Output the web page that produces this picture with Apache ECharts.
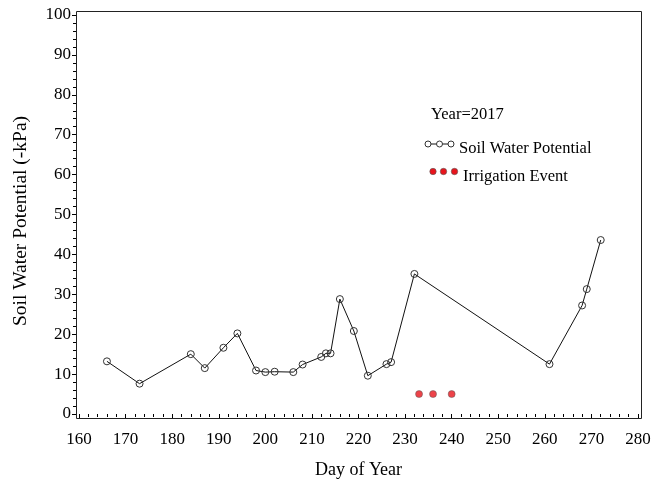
<!DOCTYPE html>
<html>
<head>
<meta charset="utf-8">
<script src="https://cdn.jsdelivr.net/npm/echarts@6/dist/echarts.min.js"></script>
<style>
  html, body { margin: 0; padding: 0; background: #fff; }
  #chart { width: 660px; height: 481px; }
</style>
</head>
<body>
<div id="chart"></div>
<script>
// Soil water potential readings (day of year, -kPa), 2017 season
const days = [166, 173, 184, 187, 191, 194, 198, 200, 202, 206, 208, 212, 213, 214, 216, 219, 222, 226, 227, 232, 261, 268, 269, 272];
const potential = [13.2, 7.6, 15.0, 11.5, 16.6, 20.2, 10.9, 10.5, 10.6, 10.5, 12.4, 14.3, 15.2, 15.2, 28.8, 20.8, 9.6, 12.5, 13.0, 35.1, 12.5, 27.2, 31.3, 43.6];

// Irrigation events, drawn at a fixed marker level
const irrigationDays = [233, 236, 240];
const irrigationLevel = [5, 5, 5];

const yearLabel = 'Year=2017';
const seriesNames = ['Soil Water Potential', 'Irrigation Event'];
const xTitle = 'Day of Year';
const yTitle = 'Soil Water Potential (-kPa)';

const FONT = 'Liberation Serif';
const RED = '#e8141c';

const chart = echarts.init(document.getElementById('chart'), null, { renderer: 'canvas' });

const lineData = days.map((d, i) => [d, potential[i]]);
const irrData = irrigationDays.map((d, i) => [d, irrigationLevel[i]]);

// frame around the plotting area
const frame = { left: 76, top: 11, right: 641, bottom: 418 };

const labelStyle = { fontFamily: FONT, fontSize: 17, color: '#000' };
const legendFont = '16.5px ' + FONT;

chart.setOption({
  backgroundColor: '#ffffff',
  animation: false,
  textStyle: { fontFamily: FONT },
  grid: { left: 79, right: 22, top: 15, bottom: 67, outerBoundsMode: 'none', containLabel: false },
  xAxis: {
    type: 'value',
    min: 160, max: 280, interval: 10,
    offset: 4,
    name: xTitle,
    nameLocation: 'middle',
    nameGap: 43,
    nameTextStyle: { fontFamily: FONT, fontSize: 18, color: '#000' },
    axisLine: { show: false },
    axisTick: { show: true, length: 4, lineStyle: { color: '#000', width: 1 } },
    minorTick: { show: true, splitNumber: 5, length: 3, lineStyle: { color: '#000', width: 1 } },
    axisLabel: Object.assign({ margin: 13 }, labelStyle),
    splitLine: { show: false }
  },
  yAxis: {
    type: 'value',
    min: 0, max: 100, interval: 10,
    offset: 3,
    axisLine: { show: false },
    axisTick: { show: true, length: 4, lineStyle: { color: '#000', width: 1 } },
    minorTick: { show: true, splitNumber: 5, length: 3, lineStyle: { color: '#000', width: 1 } },
    axisLabel: Object.assign({ margin: 5, padding: [8, 0, 0, 0] }, labelStyle),
    splitLine: { show: false }
  },
  series: [
    {
      name: seriesNames[0],
      type: 'line',
      data: lineData,
      symbol: 'circle',
      symbolSize: 7,
      showAllSymbol: true,
      lineStyle: { color: '#111', width: 1 },
      itemStyle: { color: 'rgba(0,0,0,0)', borderColor: '#333', borderWidth: 1 },
      z: 3
    },
    {
      name: seriesNames[1],
      type: 'scatter',
      data: irrData,
      symbol: 'circle',
      symbolSize: 7,
      itemStyle: { color: RED, borderColor: '#555', borderWidth: 0.6 },
      z: 4
    }
  ],
  graphic: [
    {
      type: 'rect',
      silent: true,
      shape: { x: frame.left + 0.5, y: frame.top + 0.5, width: frame.right - frame.left, height: frame.bottom - frame.top },
      style: { fill: null, stroke: '#222', lineWidth: 1 },
      z: 10
    },
    {
      // vertical axis title
      type: 'text',
      x: 21, y: 221,
      rotation: Math.PI / 2,
      style: { text: yTitle, font: '19.5px ' + FONT, fill: '#000', align: 'center', verticalAlign: 'middle' }
    },
    {
      type: 'group',
      x: 426, y: 100,
      children: [
        { type: 'text', x: 5, y: 15, style: { text: yearLabel, font: legendFont, fill: '#000', verticalAlign: 'middle' } },
        { type: 'line', shape: { x1: 2, y1: 44, x2: 25, y2: 44 }, style: { stroke: '#111', lineWidth: 1 } },
        { type: 'circle', shape: { cx: 2, cy: 44, r: 3 }, style: { fill: '#fff', stroke: '#333', lineWidth: 1 } },
        { type: 'circle', shape: { cx: 13.5, cy: 44, r: 3 }, style: { fill: '#fff', stroke: '#333', lineWidth: 1 } },
        { type: 'circle', shape: { cx: 25, cy: 44, r: 3 }, style: { fill: '#fff', stroke: '#333', lineWidth: 1 } },
        { type: 'text', x: 33, y: 48.5, style: { text: seriesNames[0], font: legendFont, fill: '#000', verticalAlign: 'middle' } },
        { type: 'circle', shape: { cx: 7, cy: 71.5, r: 3.2 }, style: { fill: RED, stroke: '#555', lineWidth: 0.6 } },
        { type: 'circle', shape: { cx: 17.5, cy: 71.5, r: 3.2 }, style: { fill: RED, stroke: '#555', lineWidth: 0.6 } },
        { type: 'circle', shape: { cx: 28.5, cy: 71.5, r: 3.2 }, style: { fill: RED, stroke: '#555', lineWidth: 0.6 } },
        { type: 'text', x: 37, y: 77, style: { text: seriesNames[1], font: legendFont, fill: '#000', verticalAlign: 'middle' } }
      ]
    }
  ]
});
</script>
</body>
</html>
